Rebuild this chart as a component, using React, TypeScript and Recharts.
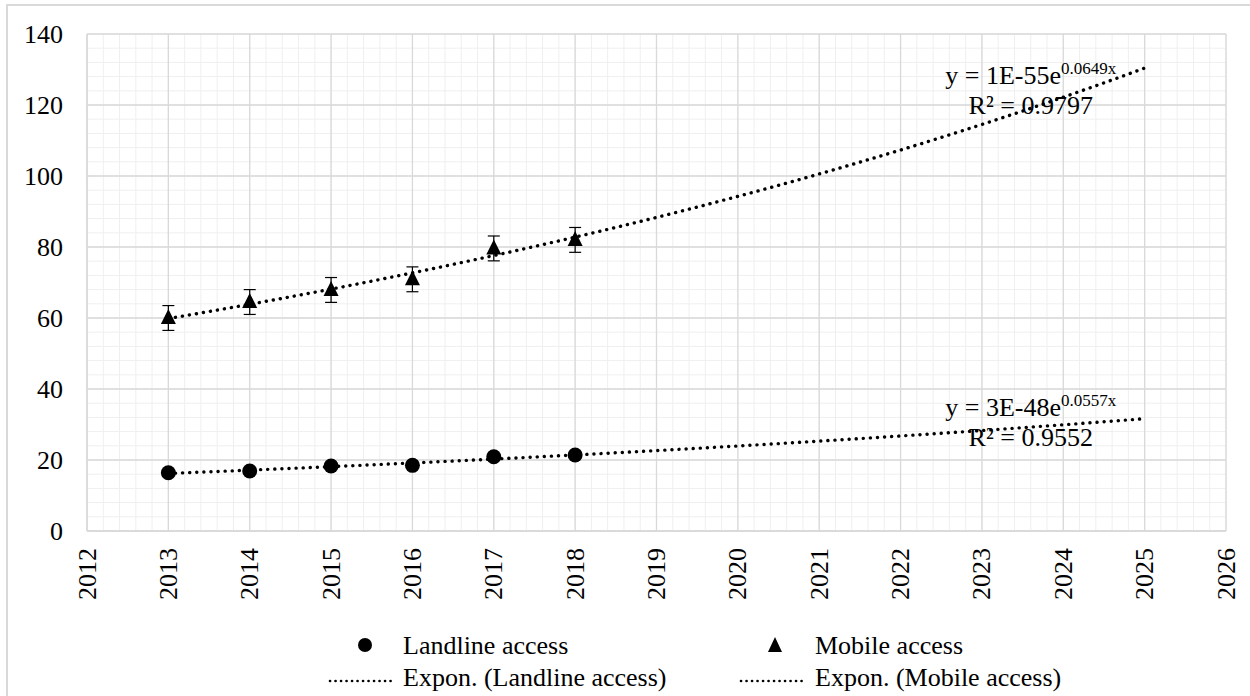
import { CartesianGrid, ComposedChart, ErrorBar, Line, ReferenceDot, Scatter, XAxis, YAxis } from 'recharts'

const years = [2013, 2014, 2015, 2016, 2017, 2018]
const landline = [16.4, 16.9, 18.3, 18.5, 20.9, 21.4]
const mobile = [60, 64.5, 67.9, 70.9, 79.6, 82]
const mobileErr = [3.5, 3.5, 3.5, 3.5, 3.5, 3.5]

const xTicks = [2012, 2013, 2014, 2015, 2016, 2017, 2018, 2019, 2020, 2021, 2022, 2023, 2024, 2025, 2026]
const yTicks = [0, 20, 40, 60, 80, 100, 120, 140]

// exponential trendlines, forecast out to 2025
const trendEnd = 2025
const landlineFit = { coef: '3E-48', rate: 0.0557, exp: '0.0557x', r2: '0.9552' }
const mobileFit = { coef: '1E-55', rate: 0.0649, exp: '0.0649x', r2: '0.9797' }

const legendNames = ['Landline access', 'Mobile access', 'Expon. (Landline access)', 'Expon. (Mobile access)']

const FONT = "'Liberation Serif', 'Times New Roman', serif"
const MAJOR = '#d9d9d9'
const MINOR = '#efefef'
const TEXT = { fontFamily: FONT, fontSize: 26 }

const landlineData = years.map((year, i) => ({ year, value: landline[i] }))
const mobileData = years.map((year, i) => ({ year, value: mobile[i], err: mobileErr[i] }))

// y = a * e^(rate * x), a fitted to the points for the given rate
function trend(values: number[], rate: number) {
  const x0 = years[0]
  const lnA = values.reduce((s, v, i) => s + Math.log(v) - rate * (years[i] - x0), 0) / values.length
  const pts: { year: number; value: number }[] = []
  for (let x = x0; x <= trendEnd + 1e-9; x += 0.25) {
    pts.push({ year: x, value: Math.exp(lnA + rate * (x - x0)) })
  }
  return pts
}

const landlineTrend = trend(landline, landlineFit.rate)
const mobileTrend = trend(mobile, mobileFit.rate)

const minorX: number[] = []
for (let x = 2012; x <= 2026.001; x += 0.2) minorX.push(Math.round(x * 10) / 10)
const minorY: number[] = []
for (let y = 0; y <= 140; y += 4) minorY.push(y)

const DOTS = { stroke: '#000', strokeWidth: 3.4, strokeDasharray: '0.1 7', strokeLinecap: 'round' as const }

function CircleMark({ cx, cy }: any) {
  return <circle cx={cx} cy={cy} r={7.5} fill="#000" />
}

function TriangleMark({ cx, cy }: any) {
  return <path d={`M${cx},${cy - 9} L${cx + 7.5},${cy + 6} L${cx - 7.5},${cy + 6} Z`} fill="#000" />
}

function XTick({ x, y, payload }: any) {
  return (
    <text x={x} y={y} transform={`rotate(-90, ${x}, ${y})`} textAnchor="end" dominantBaseline="central"
      style={TEXT} fill="#000">
      {payload.value}
    </text>
  )
}

function YTick({ x, y, payload }: any) {
  return (
    <text x={x} y={y} textAnchor="end" dominantBaseline="central" style={TEXT} fill="#000">
      {payload.value}
    </text>
  )
}

function equation(fit: { coef: string; exp: string; r2: string }) {
  return ({ viewBox }: any) => {
    const cx = viewBox.x + viewBox.width / 2
    const cy = viewBox.y + viewBox.height / 2
    return (
      <g fill="#000">
        <text x={cx} y={cy - 4} textAnchor="middle" style={TEXT}>
          <tspan>{`y = ${fit.coef}e`}</tspan>
          <tspan style={{ fontSize: 17 }} dy={-10}>{fit.exp}</tspan>
        </text>
        <text x={cx} y={cy + 26} textAnchor="middle" style={TEXT}>{`R² = ${fit.r2}`}</text>
      </g>
    )
  }
}

function LegendBlock() {
  return (
    <svg width={1250} height={96} style={{ position: 'absolute', left: 0, top: 600 }}>
      <g fill="#000">
        <circle cx={365} cy={45} r={7} fill="#000" />
        <text x={403} y={45} dominantBaseline="central" style={TEXT}>{legendNames[0]}</text>
        <path d="M775,37 L782,52 L768,52 Z" fill="#000" />
        <text x={815} y={45} dominantBaseline="central" style={TEXT}>{legendNames[1]}</text>
        <line x1={330} y1={81} x2={395} y2={81} {...DOTS} strokeWidth={2.6} strokeDasharray="0.1 5.4" />
        <text x={403} y={77} dominantBaseline="central" style={TEXT}>{legendNames[2]}</text>
        <line x1={741} y1={81} x2={807} y2={81} {...DOTS} strokeWidth={2.6} strokeDasharray="0.1 5.4" />
        <text x={815} y={77} dominantBaseline="central" style={TEXT}>{legendNames[3]}</text>
      </g>
    </svg>
  )
}

export default function App() {
  return (
    <div style={{ position: 'fixed', left: 0, top: 0, width: 1250, height: 696, overflow: 'hidden', background: '#fff', fontFamily: FONT }}>
      <div style={{ position: 'absolute', left: 6, top: 4, width: 1270, height: 720, border: `2px solid ${MAJOR}`, boxSizing: 'border-box' }} />
      <div style={{ position: 'absolute', left: 0, top: 0 }}>
        <ComposedChart width={1250} height={696} margin={{ top: 34, right: 24, left: 27, bottom: 95 }}>
          <CartesianGrid stroke={MINOR} strokeWidth={1} horizontalValues={minorY} verticalValues={minorX} />
          <CartesianGrid stroke={MAJOR} strokeWidth={1.3} horizontalValues={yTicks} verticalValues={xTicks} />
          <XAxis type="number" dataKey="year" domain={[2012, 2026]} ticks={xTicks} interval={0}
            allowDataOverflow height={70} tickSize={0} tickMargin={17} tick={<XTick />}
            axisLine={{ stroke: MAJOR, strokeWidth: 1.3 }} />
          <YAxis type="number" dataKey="value" domain={[0, 140]} ticks={yTicks} interval={0}
            allowDataOverflow width={60} tickSize={0} tickMargin={24} tick={<YTick />}
            axisLine={{ stroke: MAJOR, strokeWidth: 1.3 }} />
          <Line data={landlineTrend} dataKey="value" type="monotone" dot={false} activeDot={false}
            isAnimationActive={false} {...DOTS} />
          <Line data={mobileTrend} dataKey="value" type="monotone" dot={false} activeDot={false}
            isAnimationActive={false} {...DOTS} />
          <Scatter data={landlineData} dataKey="value" shape={<CircleMark />} isAnimationActive={false} />
          <Scatter data={mobileData} dataKey="value" shape={<TriangleMark />} isAnimationActive={false}>
            <ErrorBar dataKey="err" direction="y" width={6} stroke="#000" strokeWidth={1.2} />
          </Scatter>
          <ReferenceDot x={2023.6} y={124.8} r={0} fill="none" stroke="none" label={equation(mobileFit)} />
          <ReferenceDot x={2023.6} y={31.2} r={0} fill="none" stroke="none" label={equation(landlineFit)} />
        </ComposedChart>
      </div>
      <LegendBlock />
    </div>
  )
}
